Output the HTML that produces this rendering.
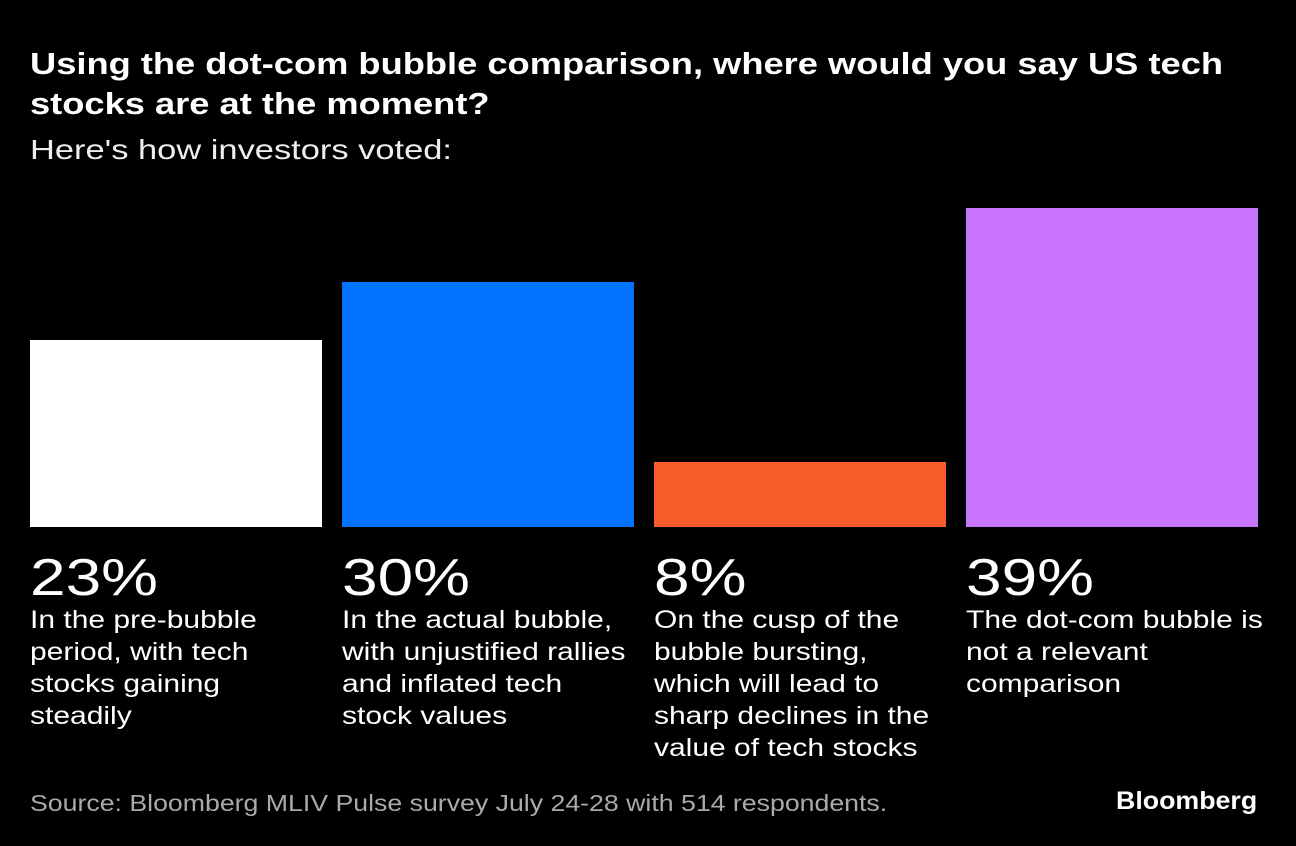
<!DOCTYPE html>
<html><head><meta charset="utf-8"><style>
body{margin:0;width:1296px;height:846px;background:#000;color:#fff;font-family:"Liberation Sans",sans-serif;position:relative;overflow:hidden}
.a{position:absolute;white-space:nowrap;transform-origin:0 0}
.t{font-weight:bold;font-size:31px;line-height:40px;left:30px;top:44px;transform:scaleX(1.17)}
.s{font-size:28px;left:30px;top:134px;color:#eee;transform:scaleX(1.23)}
.b{position:absolute;bottom:319px;width:292px}
.p{font-size:52px;top:548px;line-height:60px;transform:scaleX(1.23)}
.l{font-size:25px;line-height:32px;top:604px;transform:scaleX(1.2)}
.src{font-size:23px;left:30px;top:790px;color:#aaa;transform:scaleX(1.16)}
.bb{font-size:25px;font-weight:bold;left:1116px;top:787px;transform:scaleX(1.07)}
</style></head><body>
<div class="a t">Using the dot-com bubble comparison, where would you say US tech<br>stocks are at the moment?</div>
<div class="a s">Here's how investors voted:</div>
<div class="b" style="left:30px;top:340px;background:#fff"></div>
<div class="b" style="left:342px;top:282px;background:#0073ff"></div>
<div class="b" style="left:654px;top:462px;background:#f85c29"></div>
<div class="b" style="left:966px;top:208px;background:#c874ff"></div>
<div class="a p" style="left:30px">23%</div>
<div class="a p" style="left:342px">30%</div>
<div class="a p" style="left:654px">8%</div>
<div class="a p" style="left:966px">39%</div>
<div class="a l" style="left:30px">In the pre-bubble<br>period, with tech<br>stocks gaining<br>steadily</div>
<div class="a l" style="left:342px">In the actual bubble,<br>with unjustified rallies<br>and inflated tech<br>stock values</div>
<div class="a l" style="left:654px">On the cusp of the<br>bubble bursting,<br>which will lead to<br>sharp declines in the<br>value of tech stocks</div>
<div class="a l" style="left:966px">The dot-com bubble is<br>not a relevant<br>comparison</div>
<div class="a src">Source: Bloomberg MLIV Pulse survey July 24-28 with 514 respondents.</div>
<div class="a bb">Bloomberg</div>
</body></html>
